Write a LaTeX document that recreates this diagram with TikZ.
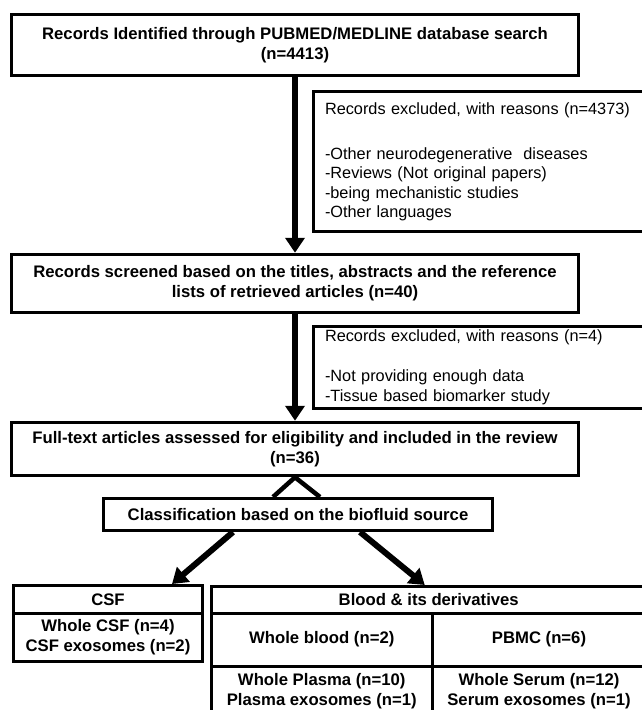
\documentclass[tikz,border=0pt]{standalone}
\usepackage{fontspec}
\setmainfont{Liberation Sans}
\usetikzlibrary{arrows.meta}

\begin{document}
\begin{tikzpicture}[x=1pt, y=-1pt,
        stage/.style={draw, line width=3.5pt, inner sep=0pt, align=center, font=\fontsize{16.7}{20}\selectfont\bfseries},
        excluded/.style={draw, line width=3pt, inner xsep=11.5pt, inner ysep=0pt, text width=310pt, align=left, anchor=west, font=\fontsize{16.3}{19.3}\selectfont},
        cell/.style={draw, line width=3pt, inner sep=0pt, align=center, font=\fontsize{16.7}{20.5}\selectfont\bfseries},
        flow/.style={line width=6pt, -{Triangle[length=15pt, width=19pt]}},
        fork/.style={line width=4.5pt}]
    \useasboundingbox (0,0) rectangle (642,710);
    \clip (0,0) rectangle (642,710);

    % Identification
    \node[stage, minimum width=567pt, minimum height=61pt] (search) at (295,45)
        {Records Identified through PUBMED/MEDLINE database search\\(n=4413)};
    \node[excluded, minimum height=140pt] (excl1) at (312,161.5)
        {Records excluded, with reasons (n=4373)\\[26pt]
         -Other neurodegenerative~ diseases\\
         -Reviews (Not original papers)\\
         -being mechanistic studies\\
         -Other languages};

    % Screening
    \node[stage, minimum width=567pt, minimum height=58pt] (screen) at (295,283.5)
        {Records screened based on the titles, abstracts and the reference\\lists of retrieved articles (n=40)};
    \node[excluded, minimum height=82pt] (excl2) at (312,367)
        {Records excluded, with reasons (n=4)\\[21pt]
         -Not providing enough data\\
         -Tissue based biomarker study};

    % Included
    \node[stage, minimum width=567pt, minimum height=53pt] (full) at (295,449)
        {Full-text articles assessed for eligibility and included in the review\\(n=36)};
    \node[stage, line width=3pt, minimum width=389pt, minimum height=32pt] (classify) at (298,514.5)
        {Classification based on the biofluid source};

    % CSF
    \node[cell, minimum width=189pt, minimum height=27.5pt] (csfhead) at (108,599.25) {CSF};
    \node[cell, minimum width=189pt, minimum height=48.5pt] (csfitems) at (108,637.25)
        {Whole CSF (n=4)\\CSF exosomes (n=2)};

    % Blood
    \node[cell, minimum width=434.5pt, minimum height=26.5pt] (bloodhead) at (428.75,599.75) {Blood \& its derivatives};
    \node[cell, minimum width=220.5pt, minimum height=53pt] (wblood) at (321.75,639.5) {Whole blood (n=2)};
    \node[cell, minimum width=214pt, minimum height=53pt] (pbmc) at (539,639.5) {PBMC (n=6)};
    \node[cell, minimum width=220.5pt, minimum height=50pt] (plasma) at (321.75,691)
        {Whole Plasma (n=10)\\Plasma exosomes (n=1)};
    \node[cell, minimum width=214pt, minimum height=50pt] (serum) at (539,691)
        {Whole Serum (n=12)\\Serum exosomes (n=1)};

    % connectors
    \draw[flow] (search.south) -- (screen.north);
    \draw[flow] (screen.south) -- (full.north);
    \draw[fork] ([xshift=-25pt]classify.north) -- (full.south) -- ([xshift=22pt]classify.north);
    \draw[flow] ([xshift=-65pt]classify.south) -- ([xshift=64pt]csfhead.north);
    \draw[flow] ([xshift=62pt]classify.south) -- ([xshift=-4pt]bloodhead.north);
\end{tikzpicture}
\end{document}
